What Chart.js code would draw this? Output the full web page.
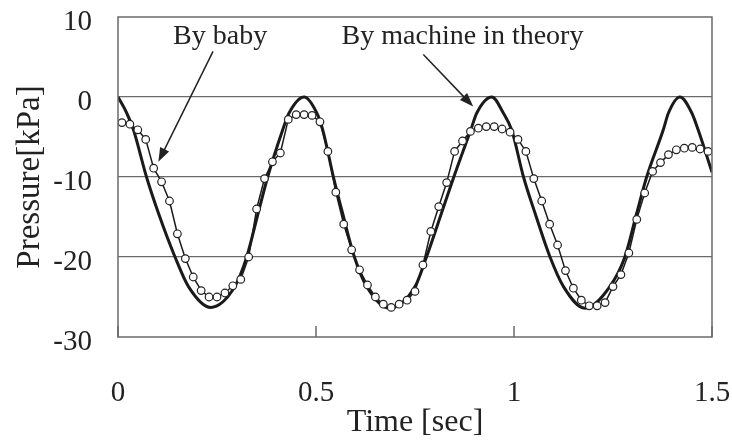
<!DOCTYPE html>
<html>
<head>
<meta charset="utf-8">
<script src="https://cdn.jsdelivr.net/npm/chart.js@4/dist/chart.umd.min.js"></script>
<style>
  html, body { margin: 0; padding: 0; background: #fff; }
  #wrap { width: 732px; height: 445px; }
</style>
</head>
<body>
<div id="wrap"><canvas id="chart" width="732" height="445"></canvas></div>
<script>
// theoretical pressure of the machine (sec, kPa)
var theoryTime = [0, 0.022, 0.039, 0.072, 0.102, 0.144, 0.178, 0.234, 0.295, 0.325, 0.354, 0.378, 0.416, 0.432,
    0.470, 0.502, 0.517, 0.544, 0.567, 0.597, 0.628, 0.685, 0.750, 0.779, 0.817, 0.848, 0.891, 0.906,
    0.944, 0.973, 0.994, 1.024, 1.053, 1.091, 1.125, 1.179, 1.242, 1.280, 1.310, 1.335, 1.377, 1.390,
    1.419, 1.449, 1.465, 1.500];
var theoryPressure = [0, -2.0, -4.1, -10.0, -14.5, -20.0, -23.7, -26.3, -23.7, -20.0, -14.5, -10.0, -4.1, -2.0,
    0, -2.0, -4.1, -10.0, -14.5, -20.0, -23.7, -26.4, -23.7, -20.0, -14.5, -10.0, -4.1, -2.0,
    0, -2.0, -4.1, -10.0, -14.5, -20.0, -23.7, -26.4, -23.7, -20.0, -14.5, -10.0, -4.1, -2.0,
    0, -2.0, -4.1, -9.4];

// measured pressure produced by the baby (sec, kPa)
var babyTime = [0.01, 0.03, 0.05, 0.07, 0.09, 0.11, 0.13, 0.15, 0.17, 0.19, 0.21, 0.23, 0.25, 0.27, 0.29,
    0.31, 0.33, 0.35, 0.37, 0.39, 0.41, 0.43, 0.45, 0.47, 0.49, 0.51, 0.53, 0.55, 0.57, 0.59,
    0.61, 0.63, 0.65, 0.67, 0.69, 0.71, 0.73, 0.75, 0.77, 0.79, 0.81, 0.83, 0.85, 0.87, 0.89,
    0.91, 0.93, 0.95, 0.97, 0.99, 1.01, 1.03, 1.05, 1.07, 1.09, 1.11, 1.13, 1.15, 1.17, 1.19,
    1.21, 1.23, 1.25, 1.27, 1.29, 1.31, 1.33, 1.35, 1.37, 1.39, 1.41, 1.43, 1.45, 1.47, 1.49];
var babyPressure = [-3.2, -3.4, -4.1, -5.3, -8.9, -10.6, -13.0, -17.1, -20.2, -22.5, -24.2, -25.0, -25.0, -24.5, -23.6,
    -22.8, -20.0, -14.0, -10.2, -8.1, -7.0, -2.8, -2.2, -2.2, -2.3, -3.1, -6.8, -11.9, -15.9, -19.1,
    -21.6, -23.5, -25.0, -25.9, -26.3, -25.9, -25.4, -24.3, -21.0, -16.8, -13.7, -10.7, -6.8, -5.5, -4.3,
    -3.9, -3.7, -3.7, -4.0, -4.4, -5.3, -6.8, -10.2, -13.0, -15.9, -18.5, -21.7, -23.9, -25.4, -26.1,
    -26.1, -25.7, -23.7, -22.2, -19.5, -15.3, -12.0, -9.3, -8.2, -7.2, -6.6, -6.4, -6.3, -6.5, -6.8];

var serif = '"Liberation Serif", "Times New Roman", serif';
var lineGray = '#6a6a6a';

function toPoints(xs, ys) {
    return xs.map(function (x, i) { return {x: x, y: ys[i]}; });
}

// fixed axis box, no extra room for overhanging labels
function fixBox(w, h) {
    return function (s) {
        if (w) s.width = w;
        if (h) s.height = h;
        s.paddingLeft = s.paddingRight = s.paddingTop = s.paddingBottom = 0;
    };
}

// callouts: label centre and arrow, in data units
var callouts = [
    {text: 'By baby', x: 0.258, y: 7.5, from: [0.240, 5.7], to: [0.102, -8.1]},
    {text: 'By machine in theory', x: 0.870, y: 7.5, from: [0.771, 5.3], to: [0.897, -1.2]}
];

var frame = {
    id: 'frame',
    afterDraw: function (chart) {
        var ctx = chart.ctx, a = chart.chartArea;
        var xs = chart.scales.x, ys = chart.scales.y;
        ctx.save();
        // box around the plot
        ctx.strokeStyle = lineGray;
        ctx.lineWidth = 1.5;
        ctx.strokeRect(a.left, a.top, a.right - a.left, a.bottom - a.top);
        // inward tick marks on the time axis
        ctx.beginPath();
        xs.ticks.forEach(function (t) {
            var px = xs.getPixelForValue(t.value);
            ctx.moveTo(px, a.bottom);
            ctx.lineTo(px, a.bottom - 11);
        });
        ctx.stroke();

        ctx.font = '28px ' + serif;
        ctx.fillStyle = '#222';
        ctx.textAlign = 'center';
        ctx.textBaseline = 'middle';
        callouts.forEach(function (c) {
            ctx.fillText(c.text, xs.getPixelForValue(c.x), ys.getPixelForValue(c.y));
            var x0 = xs.getPixelForValue(c.from[0]), y0 = ys.getPixelForValue(c.from[1]);
            var x1 = xs.getPixelForValue(c.to[0]), y1 = ys.getPixelForValue(c.to[1]);
            var ang = Math.atan2(y1 - y0, x1 - x0);
            ctx.strokeStyle = '#222';
            ctx.lineWidth = 1.5;
            ctx.beginPath();
            ctx.moveTo(x0, y0);
            ctx.lineTo(x1 - 10 * Math.cos(ang), y1 - 10 * Math.sin(ang));
            ctx.stroke();
            ctx.beginPath();
            ctx.moveTo(x1, y1);
            ctx.lineTo(x1 - 14 * Math.cos(ang) + 5 * Math.sin(ang), y1 - 14 * Math.sin(ang) - 5 * Math.cos(ang));
            ctx.lineTo(x1 - 14 * Math.cos(ang) - 5 * Math.sin(ang), y1 - 14 * Math.sin(ang) + 5 * Math.cos(ang));
            ctx.closePath();
            ctx.fill();
        });
        ctx.restore();
    }
};

new Chart(document.getElementById('chart'), {
    type: 'line',
    data: {
        datasets: [
            {
                label: 'By machine in theory',
                data: toPoints(theoryTime, theoryPressure),
                borderColor: '#1a1a1a',
                borderWidth: 3,
                pointRadius: 0,
                cubicInterpolationMode: 'monotone',
                order: 2
            },
            {
                label: 'By baby',
                data: toPoints(babyTime, babyPressure),
                borderColor: '#1a1a1a',
                borderWidth: 1.5,
                tension: 0,
                pointRadius: 3.8,
                pointBackgroundColor: '#fff',
                pointBorderColor: '#222',
                pointBorderWidth: 1.2,
                order: 1
            }
        ]
    },
    options: {
        responsive: false,
        animation: false,
        layout: {padding: {left: 0, right: 20, top: 17, bottom: 0}},
        plugins: {legend: {display: false}, tooltip: {enabled: false}},
        scales: {
            x: {
                type: 'linear',
                min: 0,
                max: 1.5,
                afterFit: fixBox(0, 108),
                grid: {display: false},
                border: {display: false},
                ticks: {
                    stepSize: 0.5,
                    padding: 34,
                    maxRotation: 0,
                    color: '#222',
                    font: {family: serif, size: 29, lineHeight: 1},
                    callback: function (v) { return String(v); }
                },
                title: {
                    display: true,
                    text: 'Time [sec]',
                    color: '#222',
                    padding: {top: 0, bottom: 6},
                    font: {family: serif, size: 32, lineHeight: 1}
                }
            },
            y: {
                min: -30,
                max: 10,
                afterFit: fixBox(118, 0),
                grid: {
                    drawTicks: false,
                    color: function (c) {
                        return (c.tick.value === 10 || c.tick.value === -30) ? 'rgba(0,0,0,0)' : lineGray;
                    },
                    lineWidth: 1.3
                },
                border: {display: false},
                ticks: {
                    stepSize: 10,
                    padding: 26,
                    labelOffset: 5,
                    color: '#222',
                    font: {family: serif, size: 29, lineHeight: 1}
                },
                title: {
                    display: true,
                    text: 'Pressure[kPa]',
                    color: '#222',
                    padding: {top: 14, bottom: 0},
                    font: {family: serif, size: 33, lineHeight: 1}
                }
            }
        }
    },
    plugins: [frame]
});
</script>
</body>
</html>
